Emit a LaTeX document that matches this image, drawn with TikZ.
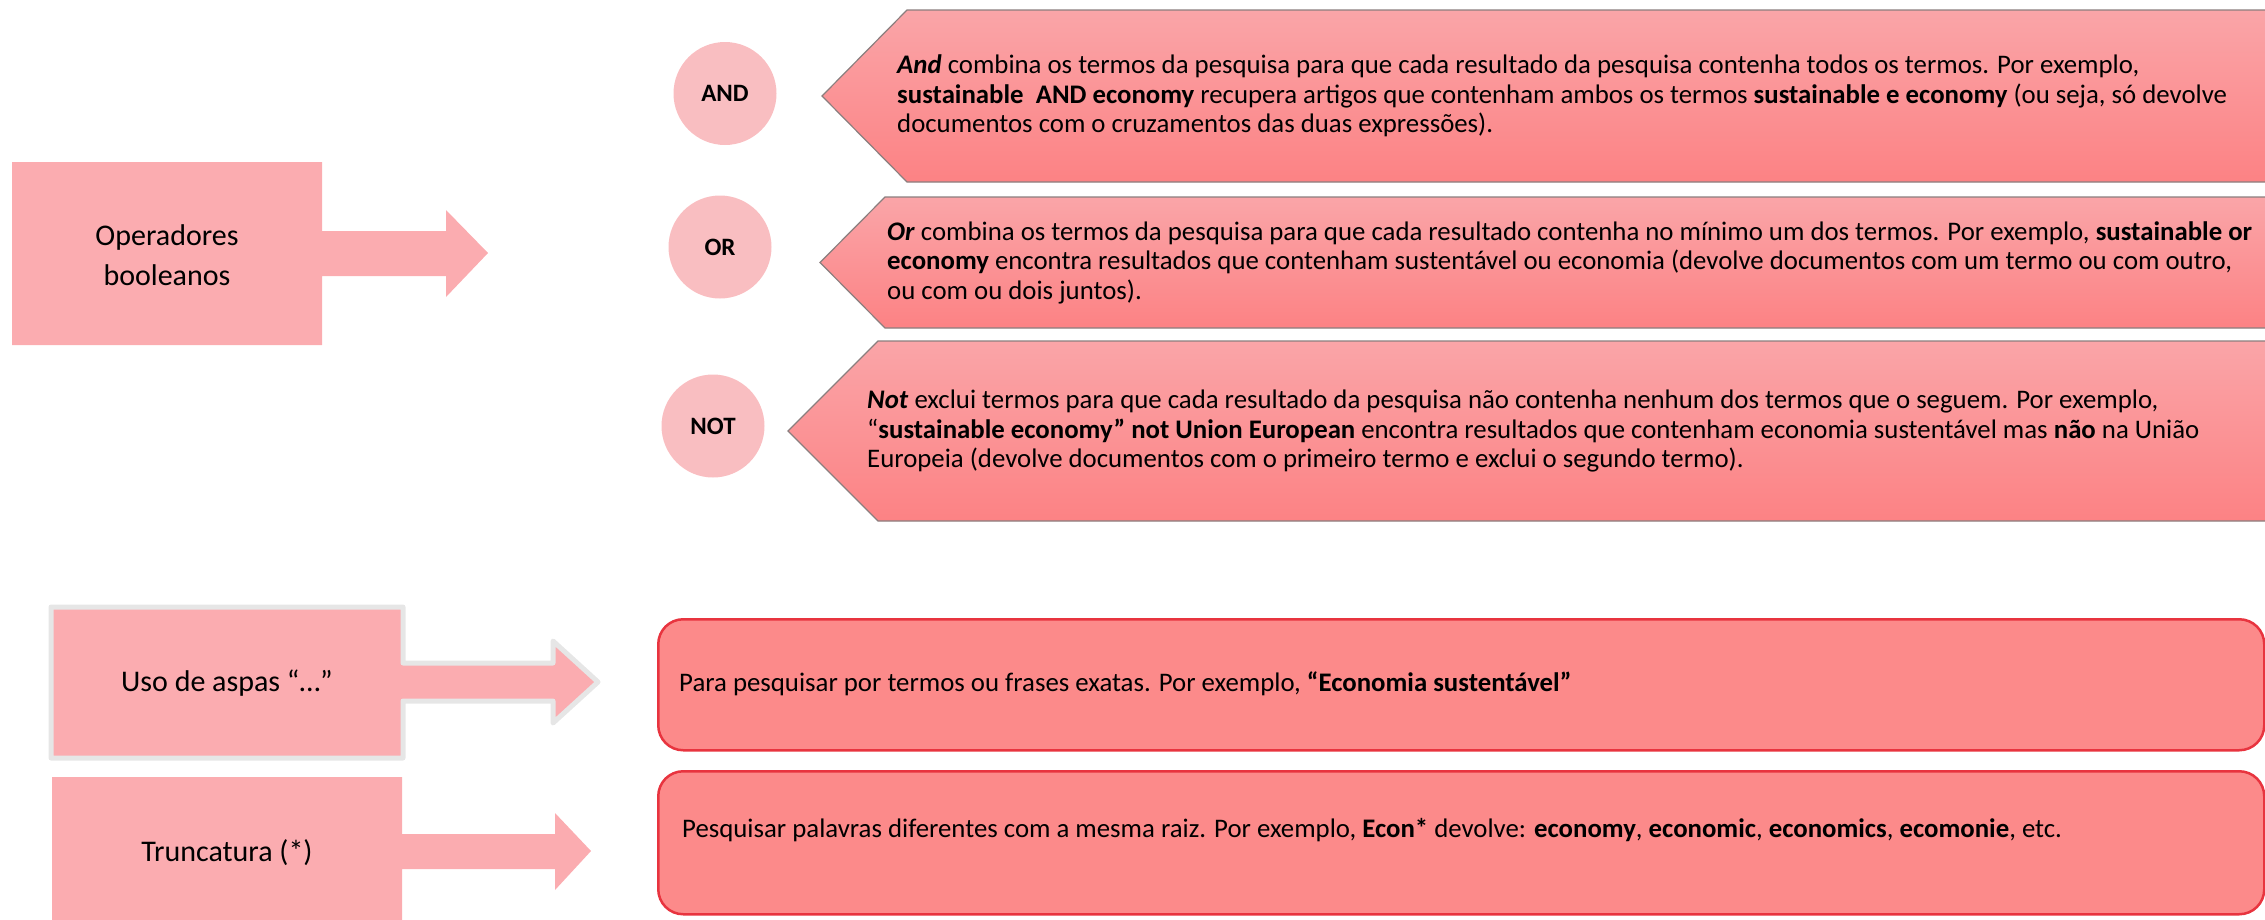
\documentclass[tikz,border=0pt]{standalone}
\usepackage{fontspec}
\setmainfont{Carlito}
\usetikzlibrary{positioning}
\definecolor{boxpink}{HTML}{FBACB0}
\definecolor{dotpink}{HTML}{F9BEC1}
\definecolor{chevtop}{HTML}{FAA5A8}
\definecolor{chevbottom}{HTML}{FC8284}
\definecolor{chevline}{HTML}{8A7E7E}
\definecolor{tipfill}{HTML}{FC8A8A}
\definecolor{tipline}{HTML}{E8343F}
\definecolor{greyline}{HTML}{E6E6E6}

\begin{document}
\begin{tikzpicture}[x=1pt, y=-1pt,
  label/.style={align=center, font=\fontsize{30}{40}\selectfont},
  op/.style={circle, fill=dotpink, minimum size=103pt, font=\fontsize{25}{30}\selectfont\bfseries},
  chev/.style={top color=chevtop, bottom color=chevbottom, draw=chevline, line width=1.2pt},
  desc/.style={anchor=west, align=left, inner sep=0pt, font=\fontsize{26.8}{29.5}\selectfont},
  tip/.style={rectangle, rounded corners=25pt, fill=tipfill, draw=tipline, line width=2.5pt, anchor=north west}]
\clip (0,0) rectangle (2265,919);

% Left column: box with block arrow
\fill[boxpink] (12,162) -- (322,162) -- (322,231) -- (446,231) -- (446,210) -- (488,253) -- (446,297) -- (446,276) -- (322,276) -- (322,345) -- (12,345) -- cycle;
\node[label] (booleans) at (167,255) {Operadores\\booleanos};

\draw[boxpink, fill=boxpink, draw=greyline, line width=5pt, line join=round] (51,607) -- (403,607) -- (403,663) -- (553,663) -- (553,641) -- (598,682) -- (553,723) -- (553,701) -- (403,701) -- (403,758) -- (51,758) -- cycle;
\node[label] (quotes) at (227,683) {Uso de aspas “…”};

\fill[boxpink] (52,777) -- (402,777) -- (402,834) -- (555,834) -- (555,813) -- (591,851) -- (555,890) -- (555,869) -- (402,869) -- (402,930) -- (52,930) -- cycle;
\node[label] (trunc) at (227,853) {Truncatura (*)};

% Operators
\node[op] (and) at (725,93.5) {AND};
\node[op] (or) at (720,247) {OR};
\node[op] (not) at (713,426) {NOT};

% Chevrons
\draw[chev] (822,96) -- (907,10) -- (2270,10) -- (2270,182) -- (907,182) -- cycle;
\node[desc] (andtxt) at (897,96) {\textbf{\textit{And}} combina os termos da pesquisa para que cada resultado da pesquisa contenha todos os termos. Por exemplo,\\
\textbf{sustainable\ \ AND economy} recupera artigos que contenham ambos os termos \textbf{sustainable e economy} (ou seja, só devolve\\
documentos com o cruzamentos das duas expressões).};

\draw[chev] (820,262.5) -- (885,197) -- (2270,197) -- (2270,328) -- (885,328) -- cycle;
\node[desc] (ortxt) at (887,262.5) {\textbf{\textit{Or}} combina os termos da pesquisa para que cada resultado contenha no mínimo um dos termos. Por exemplo, \textbf{sustainable or}\\
\textbf{economy} encontra resultados que contenham sustentável ou economia (devolve documentos com um termo ou com outro,\\
ou com ou dois juntos).};

\draw[chev] (788,431) -- (878,341) -- (2270,341) -- (2270,521) -- (878,521) -- cycle;
\node[desc] (nottxt) at (867,431) {\textbf{\textit{Not}} exclui termos para que cada resultado da pesquisa não contenha nenhum dos termos que o seguem. Por exemplo,\\
“\textbf{sustainable economy” not Union European} encontra resultados que contenham economia sustentável mas \textbf{não} na União\\
Europeia (devolve documentos com o primeiro termo e exclui o segundo termo).};

% Rounded boxes
\node[tip, minimum width=1606pt, minimum height=131pt] (quotebox) at (657,618) {};
\node[desc] (quotetxt) at (679,684) {Para pesquisar por termos ou frases exatas. Por exemplo, \textbf{“Economia sustentável”}};

\node[tip, minimum width=1606pt, minimum height=143pt] (truncbox) at (657,770) {};
\node[desc] (trunctxt) at (682,830) {Pesquisar palavras diferentes com a mesma raiz. Por exemplo, \textbf{Econ*} devolve: \textbf{economy}, \textbf{economic}, \textbf{economics}, \textbf{ecomonie}, etc.};
\end{tikzpicture}
\end{document}
